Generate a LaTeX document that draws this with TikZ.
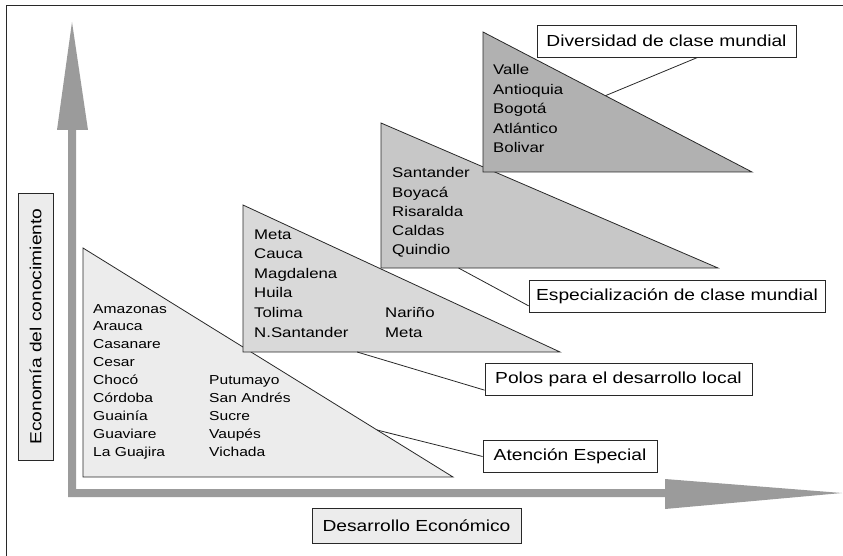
\documentclass[tikz,border=0pt]{standalone}
\usepackage{fontspec}
\setmainfont{Liberation Sans}[FakeStretch=1.2]
\usepackage{tikz}
\usetikzlibrary{positioning, calc}
\definecolor{AxisColor}{RGB}{155,155,155}
\definecolor{FrameColor}{RGB}{40,40,40}
\definecolor{LevelOne}{RGB}{236,236,236}
\definecolor{LevelTwo}{RGB}{217,217,217}
\definecolor{LevelThree}{RGB}{199,199,199}
\definecolor{LevelFour}{RGB}{177,177,177}
\tikzstyle{level} = [draw=FrameColor, line width=0.8pt, line join=miter]
\tikzstyle{leader} = [draw=FrameColor, line width=0.8pt]
\tikzset{
  tag/.style={draw=FrameColor, fill=white, line width=0.8pt, inner sep=0pt, font=\fontsize{16}{19}\selectfont, minimum height=32pt},
  axis tag/.style={tag, fill=LevelOne, minimum height=35pt},
  place/.style={anchor=base west, inner sep=0pt, font=\fontsize{14}{17}\selectfont},
  small place/.style={place, font=\fontsize{13}{16}\selectfont}
}

\begin{document}
\begin{tikzpicture}[x=1pt, y=-1pt]
  \useasboundingbox (0,0) rectangle (843,556);
  % Frame
  \draw[FrameColor, line width=0.8pt] (6,556) -- (6,5) -- (843,5);

  % Axes
  \fill[AxisColor] (68,130) -- (57,130) -- (72,22) -- (88,130) -- (76,130)
    -- (76,489) -- (665,489) -- (665,479) -- (842,493) -- (665,509)
    -- (665,497) -- (68,497) -- cycle;
  \node[axis tag, rotate=90, minimum width=267pt] (conocimiento) at (35.5,326.5) {Economía del conocimiento};
  \node[axis tag, minimum width=209pt] (desarrollo) at (416.5,525.5) {Desarrollo Económico};

  % Corners of the four levels
  \coordinate (t1top) at (83,248);   \coordinate (t1corner) at (83,477);  \coordinate (t1right) at (453,477);
  \coordinate (t2top) at (243,205);  \coordinate (t2corner) at (243,352); \coordinate (t2right) at (560,352);
  \coordinate (t3top) at (381,123);  \coordinate (t3corner) at (381,268); \coordinate (t3right) at (718,268);
  \coordinate (t4top) at (483,32);   \coordinate (t4corner) at (483,172); \coordinate (t4right) at (752,172);

  % Levels
  \filldraw[level, fill=LevelOne] (t1top) -- (t1corner) -- (t1right) -- cycle;
  \filldraw[level, fill=LevelTwo] (t2top) -- (t2corner) -- (t2right) -- cycle;
  \filldraw[level, fill=LevelThree] (t3top) -- (t3corner) -- (t3right) -- cycle;
  \filldraw[level, fill=LevelFour] (t4top) -- (t4corner) -- (t4right) -- cycle;

  % Departments
  \foreach \name [count=\i from 0] in {Valle, Antioquia, Bogotá, Atlántico, Bolivar}
    \node[place] (div\i) at (493,75+19.5*\i) {\name};
  \foreach \name [count=\i from 0] in {Santander, Boyacá, Risaralda, Caldas, Quindio}
    \node[place] (esp\i) at (392,178+19*\i) {\name};
  \foreach \name [count=\i from 0] in {Meta, Cauca, Magdalena, Huila, Tolima, N.Santander}
    \node[place] (pol\i) at (254,239+19.6*\i) {\name};
  \foreach \name [count=\i from 4] in {Nariño, Meta}
    \node[place] (polb\i) at (385,239+19.6*\i) {\name};
  \foreach \name [count=\i from 0] in {Amazonas, Arauca, Casanare, Cesar, Chocó, Córdoba, Guainía, Guaviare, La Guajira}
    \node[small place] (ate\i) at (93,313+17.9*\i) {\name};
  \foreach \name [count=\i from 4] in {Putumayo, San Andrés, Sucre, Vaupés, Vichada}
    \node[small place] (ateb\i) at (209,313+17.9*\i) {\name};

  % Labels
  \node[tag, minimum width=259pt] (diversidad) at (666.5,41) {Diversidad de clase mundial};
  \node[tag, minimum width=296pt] (especializacion) at (677,296) {Especialización de clase mundial};
  \node[tag, minimum width=267pt] (polos) at (618.5,379.5) {Polos para el desarrollo local};
  \node[tag, minimum width=174pt] (atencion) at (570,456.5) {Atención Especial};

  % Leaders
  \coordinate (t4hook) at ($(t4top)!0.455!(t4right)$);
  \coordinate (t3hook) at ($(t3corner)!0.23!(t3right)$);
  \coordinate (t2hook) at ($(t2corner)!0.36!(t2right)$);
  \coordinate (t1hook) at ($(t1top)!0.795!(t1right)$);
  \draw[leader] ($(diversidad.south east)!0.38!(diversidad.south west)$) -- (t4hook);
  \draw[leader] ($(especializacion.west)!0.6!(especializacion.south west)$) -- (t3hook);
  \draw[leader] ($(polos.west)!0.65!(polos.south west)$) -- (t2hook);
  \draw[leader] (atencion.west) -- (t1hook);
\end{tikzpicture}
\end{document}
